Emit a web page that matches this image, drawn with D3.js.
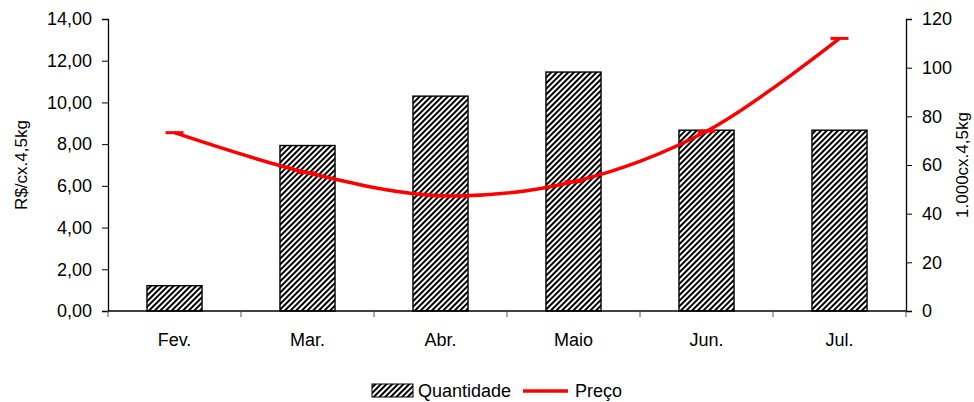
<!DOCTYPE html>
<html>
<head>
<meta charset="utf-8">
<script src="https://cdn.jsdelivr.net/npm/d3@7"></script>
<style>
  html, body { margin: 0; padding: 0; background: #fff; }
  svg { display: block; }
  text { font-family: Arial, "Liberation Sans", sans-serif; fill: #000; }
</style>
</head>
<body>
<svg id="chart" width="974" height="402"></svg>
<script>
// Monthly quantity (thousand 4.5 kg boxes) and price (R$ per 4.5 kg box)
const months = ["Fev.", "Mar.", "Abr.", "Maio", "Jun.", "Jul."];
const quantidade = [10.4, 68.0, 88.3, 98.2, 74.3, 74.3];
const preco = [8.55, 6.63, 5.53, 6.20, 8.62, 13.07];
const leftTicks = [0, 2, 4, 6, 8, 10, 12, 14];
const rightTicks = [0, 20, 40, 60, 80, 100, 120];

const FONT = 18;
const svg = d3.select("#chart");
const margin = { left: 108, right: 68, top: 19, bottom: 91 };
const W = 974, H = 402;
const x0 = margin.left, x1 = W - margin.right;
const y0 = H - margin.bottom, y1 = margin.top;

const x = d3.scaleBand().domain(months).range([x0, x1]).paddingInner(0.586).paddingOuter(0.293);
const xBand = d3.scaleBand().domain(months).range([x0, x1]);
const yL = d3.scaleLinear().domain([0, 14]).range([y0, y1]);
const yR = d3.scaleLinear().domain([0, 120]).range([y0, y1]);

// Diagonal hatch for the quantity bars
const defs = svg.append("defs");
const pat = defs.append("pattern")
  .attr("id", "hatch").attr("patternUnits", "userSpaceOnUse")
  .attr("width", 4).attr("height", 4)
  .attr("patternTransform", "rotate(45)");
pat.append("rect").attr("width", 4).attr("height", 4).attr("fill", "#fff");
pat.append("rect").attr("width", 2).attr("height", 4).attr("fill", "#000");

// Bars (right axis)
svg.append("g").selectAll("rect")
  .data(months)
  .join("rect")
  .attr("x", d => x(d))
  .attr("y", (d, i) => yR(quantidade[i]))
  .attr("width", x.bandwidth())
  .attr("height", (d, i) => y0 - yR(quantidade[i]))
  .attr("fill", "url(#hatch)")
  .attr("stroke", "#000")
  .attr("stroke-width", 1.4);

// Left axis
const axL = svg.append("g")
  .attr("transform", `translate(${x0},0)`)
  .call(d3.axisLeft(yL).tickValues(leftTicks).tickSize(6).tickPadding(10)
    .tickFormat(d => d3.format(".2f")(d).replace(".", ",")));
axL.select(".domain").attr("stroke", "#000").attr("stroke-width", 1.3);
axL.selectAll(".tick line").attr("stroke", "#000");
axL.selectAll("text").attr("font-size", FONT).attr("font-family", "Arial, 'Liberation Sans', sans-serif");

// Right axis
const axR = svg.append("g")
  .attr("transform", `translate(${x1},0)`)
  .call(d3.axisRight(yR).tickValues(rightTicks).tickSize(6).tickPadding(10));
axR.select(".domain").attr("stroke", "#000").attr("stroke-width", 1.3);
axR.selectAll(".tick line").attr("stroke", "#000");
axR.selectAll("text").attr("font-size", FONT).attr("font-family", "Arial, 'Liberation Sans', sans-serif");

// Category axis with ticks between months
const axX = svg.append("g").attr("transform", `translate(0,${y0})`);
axX.append("line").attr("x1", x0).attr("x2", x1).attr("stroke", "#000").attr("stroke-width", 1.3);
const bounds = months.map(m => xBand(m)).concat([x1]);
axX.selectAll("line.tk").data(bounds).join("line").attr("class", "tk")
  .attr("x1", d => d).attr("x2", d => d).attr("y1", 0).attr("y2", 6)
  .attr("stroke", "#555");
axX.selectAll("text").data(months).join("text")
  .attr("x", d => xBand(d) + xBand.bandwidth() / 2)
  .attr("y", 35)
  .attr("text-anchor", "middle")
  .attr("font-size", FONT)
  .text(d => d);

// Axis titles
svg.append("text")
  .attr("transform", `translate(27,${(y0 + y1) / 2}) rotate(-90)`)
  .attr("text-anchor", "middle").attr("font-size", 17)
  .text("R$/cx.4,5kg");
svg.append("text")
  .attr("transform", `translate(968,${(y0 + y1) / 2}) rotate(-90)`)
  .attr("text-anchor", "middle").attr("font-size", 17)
  .text("1.000cx.4,5kg");

// Price line (left axis), smoothed
const cx = d => xBand(d) + xBand.bandwidth() / 2;
const line = d3.line()
  .x((d, i) => cx(months[i]))
  .y(d => yL(d))
  .curve(d3.curveCatmullRom.alpha(0.5));
svg.append("path")
  .datum(preco)
  .attr("d", line)
  .attr("fill", "none")
  .attr("stroke", "#ff0000")
  .attr("stroke-width", 3.5);

// Dash markers at each price point
svg.append("g").selectAll("line")
  .data(preco)
  .join("line")
  .attr("x1", (d, i) => cx(months[i]) - 9)
  .attr("x2", (d, i) => cx(months[i]) + 9)
  .attr("y1", d => yL(d))
  .attr("y2", d => yL(d))
  .attr("stroke", "#ff0000")
  .attr("stroke-width", 3);

// Legend
const lg = svg.append("g");
lg.append("rect").attr("x", 372).attr("y", 384).attr("width", 41).attr("height", 13)
  .attr("fill", "url(#hatch)").attr("stroke", "#000").attr("stroke-width", 1);
lg.append("text").attr("x", 418).attr("y", 397).attr("font-size", FONT).text("Quantidade");
lg.append("line").attr("x1", 523).attr("x2", 568).attr("y1", 391).attr("y2", 391)
  .attr("stroke", "#ff0000").attr("stroke-width", 3.5);
lg.append("text").attr("x", 575).attr("y", 397).attr("font-size", FONT).text("Preço");
</script>
</body>
</html>
